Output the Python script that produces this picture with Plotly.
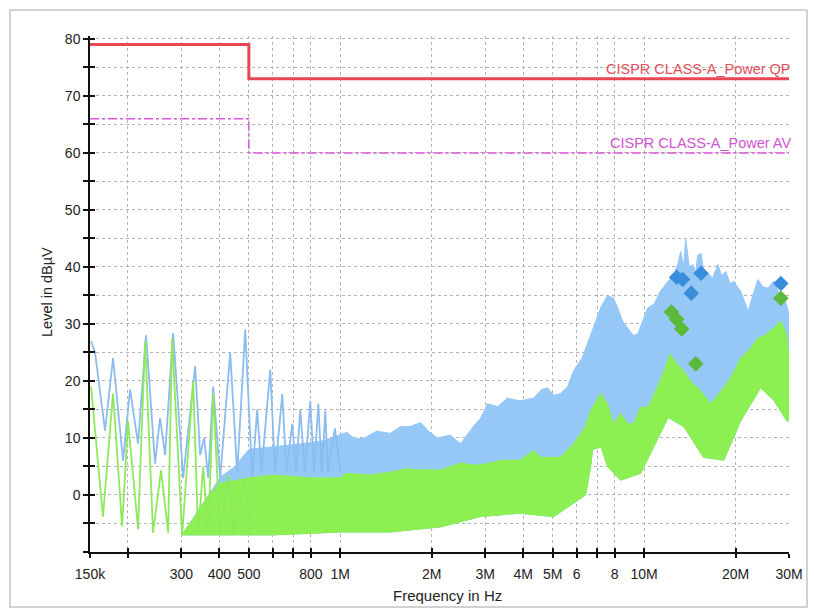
import numpy as np
import plotly.graph_objects as go

# ---- CISPR 22 Class A conducted limits (dBµV), frequency in MHz ----
limit_f_mhz = [0.15, 0.5, 0.5, 30.0]
qp_limit_db = [79, 79, 73, 73]
av_limit_db = [66, 66, 60, 60]

# ---- Peak detector: discrete harmonics below 1 MHz ----
pk_harm_f = [0.1512, 0.1558, 0.1681, 0.1786, 0.1927, 0.2032, 0.2159, 0.2294, 0.2456,
             0.2551, 0.2650, 0.2816, 0.3039, 0.3329, 0.3457, 0.3564, 0.3674, 0.3816,
             0.4024, 0.4341, 0.4578, 0.4864, 0.5129, 0.5327, 0.5500, 0.5881, 0.6100,
             0.6442, 0.6650, 0.6950, 0.7150, 0.7384, 0.7650, 0.7967, 0.8200, 0.8464,
             0.8700, 0.8925, 0.9100, 0.9600, 1.0000]
pk_harm_db = [27.0, 25.0, 11.3, 24.0, 6.0, 18.5, 9.0, 28.0, 5.5,
              13.5, 7.0, 28.4, 3.0, 22.6, 7.0, 10.0, 3.0, 19.0,
              3.0, 25.0, 3.8, 29.0, 3.0, 15.0, 4.0, 22.0, 4.0,
              17.7, 4.0, 12.5, 4.0, 15.0, 4.0, 16.5, 4.0, 16.0,
              4.0, 14.8, 4.0, 11.7, 4.0]

# ---- Peak detector: upper envelope of the dense spectrum ----
pk_top_f = [0.40, 0.45, 0.50, 0.62, 0.75, 0.88, 1.00, 1.05, 1.12, 1.20, 1.32, 1.46,
            1.58, 1.70, 1.84, 1.95, 2.09, 2.30, 2.49, 2.74, 2.90, 3.05, 3.30, 3.55,
            3.90, 4.33, 4.60, 4.81, 5.05, 5.31, 5.60, 5.86, 6.25, 6.67, 7.00, 7.22,
            7.58, 7.94, 8.19, 8.50, 8.83, 9.20, 9.53, 10.28, 10.8, 11.3, 12.0, 12.5,
            12.9, 13.2, 13.5, 13.7, 14.1, 14.5, 14.8, 15.0, 15.4, 15.8, 16.2, 16.8,
            17.5, 18.0, 18.6, 19.2, 19.7, 20.8, 21.4, 22.0, 22.8, 23.7, 24.6, 25.6,
            26.75, 27.5, 28.2, 29.2, 30.0]
pk_top_db = [3.0, 5.0, 8.0, 8.5, 9.0, 9.5, 10.5, 11.0, 9.8, 10.0, 11.2, 10.8,
             12.0, 12.0, 12.7, 11.2, 10.0, 10.5, 9.0, 12.0, 13.5, 16.0, 15.5, 17.0,
             16.5, 17.0, 18.5, 18.8, 17.5, 17.8, 19.0, 21.8, 24.0, 28.0, 31.0, 33.0,
             35.0, 34.5, 32.8, 30.5, 29.3, 28.0, 28.2, 32.8, 33.5, 35.7, 37.5, 38.5,
             40.4, 42.7, 40.0, 45.0, 40.0, 40.4, 39.0, 42.0, 42.4, 38.5, 39.0, 38.0,
             40.4, 38.5, 39.2, 37.0, 37.5, 35.7, 34.0, 32.2, 35.0, 37.8, 36.5, 36.3,
             37.5, 36.0, 35.0, 34.0, 31.7]

# ---- Average detector: discrete harmonics below 0.5 MHz ----
av_harm_f = [0.1512, 0.1655, 0.1786, 0.1913, 0.2001, 0.2159, 0.2277, 0.2419, 0.2571,
             0.2711, 0.2795, 0.3016, 0.3279, 0.3405, 0.3537, 0.3674, 0.3816, 0.4024,
             0.4275, 0.4450, 0.4864, 0.5100]
av_harm_db = [19.0, -3.8, 17.8, -5.5, 13.0, -6.0, 27.0, -6.6, 4.3,
              -6.6, 27.5, -7.0, 20.0, -7.0, 5.0, -7.0, 17.8, -7.0,
              3.5, -7.0, 3.0, -7.0]

# ---- Average detector: dense spectrum envelope ----
av_top_f = [0.30, 0.33, 0.37, 0.40, 0.50, 0.60, 0.80, 1.00, 1.05, 1.25, 1.46, 1.65,
            1.84, 2.14, 2.49, 2.80, 3.12, 3.37, 3.90, 4.33, 4.56, 5.30, 5.86, 6.42,
            6.67, 7.22, 7.36, 7.58, 7.94, 8.37, 8.83, 9.24, 9.75, 10.3, 11.2, 12.2,
            12.8, 13.5, 14.2, 15.0, 16.6, 17.5, 18.3, 19.5, 20.8, 22.2, 23.7, 25.0,
            26.75, 28.2, 29.5, 30.0]
av_top_db = [-7.0, -4.0, 0.0, 2.0, 3.0, 3.5, 3.0, 3.0, 3.8, 3.5, 4.0, 4.6,
             4.4, 4.4, 5.6, 5.2, 5.6, 6.1, 6.1, 7.8, 6.6, 6.6, 9.0, 12.0,
             14.8, 17.8, 17.0, 16.0, 12.5, 14.3, 12.5, 12.5, 15.4, 15.4, 19.5, 24.7,
             23.0, 21.8, 20.0, 18.8, 16.0, 17.5, 18.8, 21.0, 24.0, 25.5, 27.5, 28.0,
             29.3, 30.5, 28.0, 23.5]
av_bot_f = [0.30, 0.40, 0.60, 1.00, 1.46, 2.14, 2.89, 3.90, 5.04, 5.86, 6.42, 6.67,
            6.77, 7.22, 7.58, 8.37, 9.75, 12.0, 13.5, 15.7, 18.3, 20.8, 24.2, 26.75,
            29.5, 30.0]
av_bot_db = [-7.0, -7.0, -7.0, -6.5, -6.5, -5.6, -3.8, -3.2, -3.8, -1.4, 0.0, 5.0,
             8.0, 8.4, 5.0, 2.6, 3.8, 13.6, 12.0, 6.6, 6.1, 13.0, 18.8, 16.6,
             13.0, 13.0]

# ---- Final measurement points ----
qp_pts_f = [12.8, 13.4, 15.4, 14.3, 28.2]
qp_pts_db = [38.2, 37.8, 38.9, 35.4, 37.1]
av_pts_f = [12.3, 12.8, 13.3, 14.8, 28.2]
av_pts_db = [32.1, 30.8, 29.1, 23.0, 34.5]

# ---- Axis ticks ----
x_tick_mhz = [0.15, 0.2, 0.3, 0.4, 0.5, 0.6, 0.7, 0.8, 1, 2, 3, 4, 5, 6, 7, 8, 10, 20, 30]
x_tick_text = ["150k", "", "300", "400", "500", "", "", "800", "1M", "2M", "3M", "4M",
               "5M", "6", "", "8", "10M", "20M", "30M"]
y_tick_vals = list(range(-10, 81, 5))
y_tick_text = [str(v) if (v >= 0 and v % 10 == 0) else "" for v in y_tick_vals]

MHZ = 1e6
FONT = "Liberation Sans, Arial, sans-serif"

PK_FILL = "#95c7f7"
PK_LINE = "#8bbcef"
AV_FILL = "#8df052"
AV_LINE = "#8ee95a"


def band(top_f, top_db, bot_f, bot_db):
    xs = np.concatenate([np.array(top_f), np.array(bot_f)[::-1]]) * MHZ
    ys = np.concatenate([np.array(top_db), np.array(bot_db)[::-1]])
    return xs, ys


fig = go.Figure()

# Peak detector spectrum (its lower side lies under the average trace)
bx, by = band(pk_top_f, pk_top_db, av_bot_f, av_bot_db)
fig.add_trace(go.Scatter(x=bx, y=by, fill="toself", fillcolor=PK_FILL,
                         line=dict(color=PK_FILL, width=1), mode="lines",
                         hoverinfo="skip"))
fig.add_trace(go.Scatter(x=np.array(pk_harm_f) * MHZ, y=pk_harm_db, mode="lines",
                         line=dict(color=PK_LINE, width=1.8)))

# Average detector spectrum
bx, by = band(av_top_f, av_top_db, av_bot_f, av_bot_db)
fig.add_trace(go.Scatter(x=bx, y=by, fill="toself", fillcolor=AV_FILL,
                         line=dict(color=AV_FILL, width=1), mode="lines",
                         hoverinfo="skip"))
fig.add_trace(go.Scatter(x=np.array(av_harm_f) * MHZ, y=av_harm_db, mode="lines",
                         line=dict(color=AV_LINE, width=1.8)))

# Limit lines
fig.add_trace(go.Scatter(x=np.array(limit_f_mhz) * MHZ, y=qp_limit_db, mode="lines",
                         line=dict(color="#e84652", width=3)))
fig.add_trace(go.Scatter(x=np.array(limit_f_mhz) * MHZ, y=av_limit_db, mode="lines",
                         line=dict(color="#dc55dc", width=1.5, dash="dashdot")))

# Final measurement markers
fig.add_trace(go.Scatter(x=np.array(qp_pts_f) * MHZ, y=qp_pts_db, mode="markers",
                         marker=dict(symbol="diamond", size=12, color="#3a8ddb")))
fig.add_trace(go.Scatter(x=np.array(av_pts_f) * MHZ, y=av_pts_db, mode="markers",
                         marker=dict(symbol="diamond", size=12, color="#5cba3a")))

# Empty trace on the overlay axes (inner half of the crossing ticks)
fig.add_trace(go.Scatter(x=[None], y=[None], xaxis="x2", yaxis="y2", mode="markers",
                         hoverinfo="skip"))

x_range = [np.log10(0.15 * MHZ), np.log10(30 * MHZ)]
y_range = [-10, 80.5]
x_ticks = [v * MHZ for v in x_tick_mhz]

fig.update_layout(
    width=814, height=610,
    margin=dict(l=90, r=25, t=36, b=58),
    paper_bgcolor="white", plot_bgcolor="white",
    showlegend=False,
    font=dict(family=FONT, size=14, color="#222"),
    xaxis=dict(type="log", range=x_range, tickvals=x_ticks, ticktext=x_tick_text,
               ticks="outside", ticklen=4, tickwidth=2, tickcolor="#111",
               showline=True, linecolor="#111", linewidth=1.5,
               showgrid=True, gridcolor="#b4b4b4", griddash="dot", gridwidth=1,
               zeroline=False, ticklabelstandoff=4,
               tickfont=dict(size=14, color="#222")),
    yaxis=dict(range=y_range, tickvals=y_tick_vals, ticktext=y_tick_text,
               ticks="outside", ticklen=5, tickwidth=2, tickcolor="#111",
               showline=True, linecolor="#111", linewidth=1.5,
               showgrid=True, gridcolor="#b4b4b4", griddash="dot", gridwidth=1,
               zeroline=False, tickfont=dict(size=14, color="#222")),
    xaxis2=dict(type="log", range=x_range, overlaying="x", anchor="y2", side="bottom",
                tickvals=x_ticks, showticklabels=False, ticks="inside", ticklen=4,
                tickwidth=2, tickcolor="#111", showgrid=False, showline=False,
                zeroline=False),
    yaxis2=dict(range=y_range, overlaying="y", anchor="x2", side="left",
                tickvals=y_tick_vals, showticklabels=False, ticks="inside", ticklen=5,
                tickwidth=2, tickcolor="#111", showgrid=False, showline=False,
                zeroline=False),
)

# Limit labels and axis titles
fig.add_annotation(xref="paper", yref="y", x=1.0, y=73, xanchor="right",
                   yanchor="bottom", xshift=4, yshift=0, showarrow=False,
                   text="CISPR CLASS-A_Power QP",
                   font=dict(family=FONT, size=14.5, color="#e2505c"))
fig.add_annotation(xref="paper", yref="y", x=1.0, y=60, xanchor="right",
                   yanchor="bottom", xshift=4, yshift=0, showarrow=False,
                   text="CISPR CLASS-A_Power AV",
                   font=dict(family=FONT, size=14.5, color="#cf55cf"))
fig.add_annotation(xref="paper", yref="paper", x=(47 - 90) / 699, y=(552 - 292) / 516,
                   xanchor="center", yanchor="middle", textangle=-90, showarrow=False,
                   text="Level in dBµV", font=dict(family=FONT, size=14.5, color="#222"))
fig.add_annotation(xref="paper", yref="paper", x=(447 - 90) / 699, y=(552 - 595) / 516,
                   xanchor="center", yanchor="middle", showarrow=False,
                   text="Frequency in Hz", font=dict(family=FONT, size=15, color="#222"))

# Light outer frame around the whole chart
fig.add_shape(type="rect", xref="paper", yref="paper",
              x0=(10 - 90) / 699, x1=(807 - 90) / 699,
              y0=(552 - 607) / 516, y1=(552 - 10) / 516,
              line=dict(color="#c4c4c4", width=1.5), fillcolor="rgba(0,0,0,0)",
              layer="below")

fig.write_html("out.html")
